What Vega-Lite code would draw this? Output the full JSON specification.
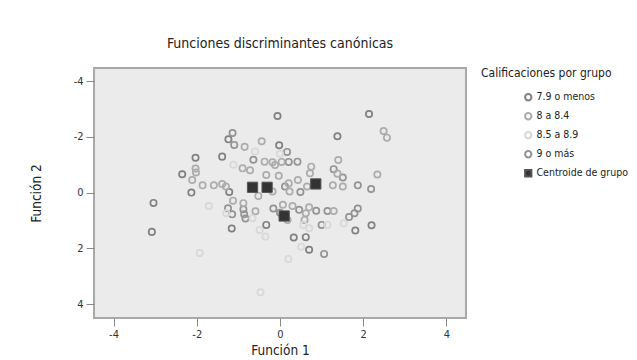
{
  "$schema": "https://vega.github.io/schema/vega-lite/v6.json",
  "width": 372,
  "height": 250,
  "autosize": "none",
  "padding": {"left": 94, "top": 68, "right": 171, "bottom": 42},
  "background": "white",
  "title": {
    "text": "Funciones discriminantes canónicas",
    "anchor": "middle",
    "font": "DejaVu Sans Condensed, Liberation Sans",
    "fontSize": 14,
    "fontWeight": "normal",
    "color": "#222",
    "offset": 17
  },
  "config": {
    "font": "DejaVu Sans Condensed, Liberation Sans",
    "view": {"fill": "#ebebeb", "stroke": "#a8a8a8", "strokeWidth": 2},
    "axis": {
      "domain": false, "grid": false, "tickColor": "#888", "tickSize": 8,
      "labelFontSize": 11, "labelColor": "#333", "titleFontSize": 13.5,
      "titleFontWeight": "normal", "titleColor": "#222",
      "labelFont": "DejaVu Sans Condensed, Liberation Sans", "titleFont": "DejaVu Sans Condensed, Liberation Sans",
      "labelExpr": "replace(datum.label, '\u2212', '-')"
    },
    "legend": {
      "titleFontSize": 12, "titleFontWeight": "normal", "titleColor": "#222",
      "titleFont": "DejaVu Sans Condensed, Liberation Sans", "labelFont": "DejaVu Sans Condensed, Liberation Sans",
      "labelFontSize": 10.5, "labelColor": "#222", "symbolSize": 40, "symbolStrokeWidth": 2,
      "rowPadding": 4, "symbolOffset": 42, "titlePadding": 12, "labelOffset": 3, "offset": 15
    }
  },
  "data": {"values": [
    {"f1": -2.03, "f2": -1.25, "grupo": "7.9 o menos"},
    {"f1": -1.39, "f2": -1.29, "grupo": "7.9 o menos"},
    {"f1": -2.13, "f2": 0.0, "grupo": "7.9 o menos"},
    {"f1": -1.16, "f2": 1.29, "grupo": "7.9 o menos"},
    {"f1": 1.81, "f2": 1.36, "grupo": "7.9 o menos"},
    {"f1": 2.14, "f2": -2.82, "grupo": "7.9 o menos"},
    {"f1": 1.38, "f2": -2.02, "grupo": "7.9 o menos"},
    {"f1": -0.06, "f2": -2.75, "grupo": "7.9 o menos"},
    {"f1": -1.24, "f2": -1.91, "grupo": "7.9 o menos"},
    {"f1": -0.02, "f2": -1.7, "grupo": "7.9 o menos"},
    {"f1": 0.7, "f2": 2.05, "grupo": "7.9 o menos"},
    {"f1": 0.33, "f2": 1.61, "grupo": "7.9 o menos"},
    {"f1": 0.62, "f2": 1.6, "grupo": "7.9 o menos"},
    {"f1": -3.04, "f2": 0.37, "grupo": "7.9 o menos"},
    {"f1": -3.08, "f2": 1.41, "grupo": "7.9 o menos"},
    {"f1": 2.2, "f2": 1.17, "grupo": "7.9 o menos"},
    {"f1": -0.33, "f2": 1.16, "grupo": "7.9 o menos"},
    {"f1": -1.22, "f2": -0.02, "grupo": "7.9 o menos"},
    {"f1": -2.35, "f2": -0.66, "grupo": "7.9 o menos"},
    {"f1": -1.14, "f2": -2.14, "grupo": "9 o más"},
    {"f1": -1.1, "f2": -1.71, "grupo": "9 o más"},
    {"f1": 0.17, "f2": -1.46, "grupo": "9 o más"},
    {"f1": -0.64, "f2": -1.18, "grupo": "9 o más"},
    {"f1": 0.42, "f2": -1.11, "grupo": "9 o más"},
    {"f1": 0.21, "f2": -1.1, "grupo": "9 o más"},
    {"f1": 1.29, "f2": -0.84, "grupo": "9 o más"},
    {"f1": 1.51, "f2": -0.54, "grupo": "9 o más"},
    {"f1": 1.87, "f2": -0.26, "grupo": "9 o más"},
    {"f1": 2.19, "f2": -0.13, "grupo": "9 o más"},
    {"f1": 0.49, "f2": -0.02, "grupo": "9 o más"},
    {"f1": -1.25, "f2": 0.56, "grupo": "9 o más"},
    {"f1": -1.15, "f2": 0.78, "grupo": "9 o más"},
    {"f1": -0.88, "f2": 0.6, "grupo": "9 o más"},
    {"f1": -0.83, "f2": 0.93, "grupo": "9 o más"},
    {"f1": 0.87, "f2": 0.65, "grupo": "9 o más"},
    {"f1": 1.14, "f2": 0.66, "grupo": "9 o más"},
    {"f1": 1.0, "f2": 1.16, "grupo": "9 o más"},
    {"f1": 1.06, "f2": 2.2, "grupo": "9 o más"},
    {"f1": 1.66, "f2": 0.88, "grupo": "9 o más"},
    {"f1": 1.79, "f2": 0.74, "grupo": "9 o más"},
    {"f1": 1.87, "f2": 0.57, "grupo": "9 o más"},
    {"f1": 0.12, "f2": -0.22, "grupo": "9 o más"},
    {"f1": -0.86, "f2": 0.78, "grupo": "9 o más"},
    {"f1": -0.16, "f2": 0.57, "grupo": "9 o más"},
    {"f1": 0.0, "f2": 0.72, "grupo": "9 o más"},
    {"f1": 0.46, "f2": 0.62, "grupo": "9 o más"},
    {"f1": -0.85, "f2": -1.64, "grupo": "8 a 8.4"},
    {"f1": -0.44, "f2": -1.84, "grupo": "8 a 8.4"},
    {"f1": -2.03, "f2": -0.86, "grupo": "8 a 8.4"},
    {"f1": -2.02, "f2": -0.72, "grupo": "8 a 8.4"},
    {"f1": -0.9, "f2": -0.87, "grupo": "8 a 8.4"},
    {"f1": -0.72, "f2": -0.8, "grupo": "8 a 8.4"},
    {"f1": -0.37, "f2": -1.11, "grupo": "8 a 8.4"},
    {"f1": -0.18, "f2": -1.09, "grupo": "8 a 8.4"},
    {"f1": 0.04, "f2": -1.1, "grupo": "8 a 8.4"},
    {"f1": -0.12, "f2": -0.99, "grupo": "8 a 8.4"},
    {"f1": -0.03, "f2": -0.6, "grupo": "8 a 8.4"},
    {"f1": -0.33, "f2": -0.63, "grupo": "8 a 8.4"},
    {"f1": 0.43, "f2": -0.45, "grupo": "8 a 8.4"},
    {"f1": 0.72, "f2": -0.69, "grupo": "8 a 8.4"},
    {"f1": 0.75, "f2": -0.93, "grupo": "8 a 8.4"},
    {"f1": 1.4, "f2": -1.17, "grupo": "8 a 8.4"},
    {"f1": 1.38, "f2": -0.68, "grupo": "8 a 8.4"},
    {"f1": 2.34, "f2": -0.65, "grupo": "8 a 8.4"},
    {"f1": -2.11, "f2": -0.45, "grupo": "8 a 8.4"},
    {"f1": -1.86, "f2": -0.26, "grupo": "8 a 8.4"},
    {"f1": -1.59, "f2": -0.26, "grupo": "8 a 8.4"},
    {"f1": -1.39, "f2": -0.31, "grupo": "8 a 8.4"},
    {"f1": -1.3, "f2": -0.22, "grupo": "8 a 8.4"},
    {"f1": 0.21, "f2": -0.33, "grupo": "8 a 8.4"},
    {"f1": 0.65, "f2": -0.22, "grupo": "8 a 8.4"},
    {"f1": 1.27, "f2": -0.26, "grupo": "8 a 8.4"},
    {"f1": 1.51, "f2": -0.22, "grupo": "8 a 8.4"},
    {"f1": -0.18, "f2": -0.04, "grupo": "8 a 8.4"},
    {"f1": -0.52, "f2": 0.12, "grupo": "8 a 8.4"},
    {"f1": -1.13, "f2": 0.29, "grupo": "8 a 8.4"},
    {"f1": -0.88, "f2": 0.38, "grupo": "8 a 8.4"},
    {"f1": -0.59, "f2": 0.67, "grupo": "8 a 8.4"},
    {"f1": 0.18, "f2": 0.98, "grupo": "8 a 8.4"},
    {"f1": 0.3, "f2": 0.48, "grupo": "8 a 8.4"},
    {"f1": 0.62, "f2": 0.74, "grupo": "8 a 8.4"},
    {"f1": 0.7, "f2": 0.53, "grupo": "8 a 8.4"},
    {"f1": 1.29, "f2": 0.66, "grupo": "8 a 8.4"},
    {"f1": 0.59, "f2": 0.98, "grupo": "8 a 8.4"},
    {"f1": 2.49, "f2": -2.21, "grupo": "8 a 8.4"},
    {"f1": 2.57, "f2": -1.97, "grupo": "8 a 8.4"},
    {"f1": 0.07, "f2": 0.44, "grupo": "8 a 8.4"},
    {"f1": 0.23, "f2": -0.04, "grupo": "8 a 8.4"},
    {"f1": -0.6, "f2": -1.47, "grupo": "8.5 a 8.9"},
    {"f1": 0.0, "f2": -1.39, "grupo": "8.5 a 8.9"},
    {"f1": -1.12, "f2": -1.0, "grupo": "8.5 a 8.9"},
    {"f1": -1.71, "f2": 0.48, "grupo": "8.5 a 8.9"},
    {"f1": -1.93, "f2": 2.17, "grupo": "8.5 a 8.9"},
    {"f1": -0.49, "f2": 1.34, "grupo": "8.5 a 8.9"},
    {"f1": -0.35, "f2": 1.58, "grupo": "8.5 a 8.9"},
    {"f1": 0.51, "f2": 1.94, "grupo": "8.5 a 8.9"},
    {"f1": 0.2, "f2": 2.38, "grupo": "8.5 a 8.9"},
    {"f1": 0.56, "f2": 1.16, "grupo": "8.5 a 8.9"},
    {"f1": 1.14, "f2": 1.16, "grupo": "8.5 a 8.9"},
    {"f1": 1.53, "f2": 1.1, "grupo": "8.5 a 8.9"},
    {"f1": -0.47, "f2": 3.58, "grupo": "8.5 a 8.9"},
    {"f1": -1.29, "f2": 0.74, "grupo": "8.5 a 8.9"},
    {"f1": -0.66, "f2": 0.92, "grupo": "8.5 a 8.9"},
    {"f1": 0.7, "f2": 1.28, "grupo": "8.5 a 8.9"},
    {"f1": -0.66, "f2": -0.19, "grupo": "Centroide de grupo"},
    {"f1": -0.31, "f2": -0.19, "grupo": "Centroide de grupo"},
    {"f1": 0.86, "f2": -0.31, "grupo": "Centroide de grupo"},
    {"f1": 0.1, "f2": 0.84, "grupo": "Centroide de grupo"}
  ]},
  "encoding": {
    "x": {"field": "f1", "type": "quantitative", "title": "Función 1",
      "scale": {"domain": [-4.47, 4.47], "nice": false, "zero": false},
      "axis": {"values": [-4, -2, 0, 2, 4], "labelPadding": 2, "titlePadding": 4}},
    "y": {"field": "f2", "type": "quantitative", "title": "Función 2",
      "scale": {"domain": [-4.47, 4.5], "nice": false, "zero": false, "reverse": true},
      "axis": {"values": [-4, -2, 0, 2, 4], "labelPadding": 3, "titlePadding": 30}},
    "shape": {"field": "grupo", "type": "nominal", "title": "Calificaciones por grupo",
      "scale": {"domain": ["7.9 o menos", "8 a 8.4", "8.5 a 8.9", "9 o más", "Centroide de grupo"],
        "range": ["circle", "circle", "circle", "circle", "square"]}},
    "stroke": {"field": "grupo", "type": "nominal", "title": "Calificaciones por grupo",
      "scale": {"domain": ["7.9 o menos", "8 a 8.4", "8.5 a 8.9", "9 o más", "Centroide de grupo"],
        "range": ["#808080", "#acacac", "#d8d8d8", "#939393", "#555555"]}},
    "fill": {"field": "grupo", "type": "nominal", "title": "Calificaciones por grupo",
      "scale": {"domain": ["7.9 o menos", "8 a 8.4", "8.5 a 8.9", "9 o más", "Centroide de grupo"],
        "range": ["transparent", "transparent", "transparent", "transparent", "#333333"]}}
  },
  "layer": [
    {
      "transform": [{"filter": "datum.grupo != 'Centroide de grupo'"}],
      "mark": {"type": "point", "size": 40, "strokeWidth": 1.7, "opacity": 1}
    },
    {
      "transform": [{"filter": "datum.grupo == 'Centroide de grupo'"}],
      "mark": {"type": "point", "size": 105, "strokeWidth": 1, "opacity": 1}
    }
  ]
}
